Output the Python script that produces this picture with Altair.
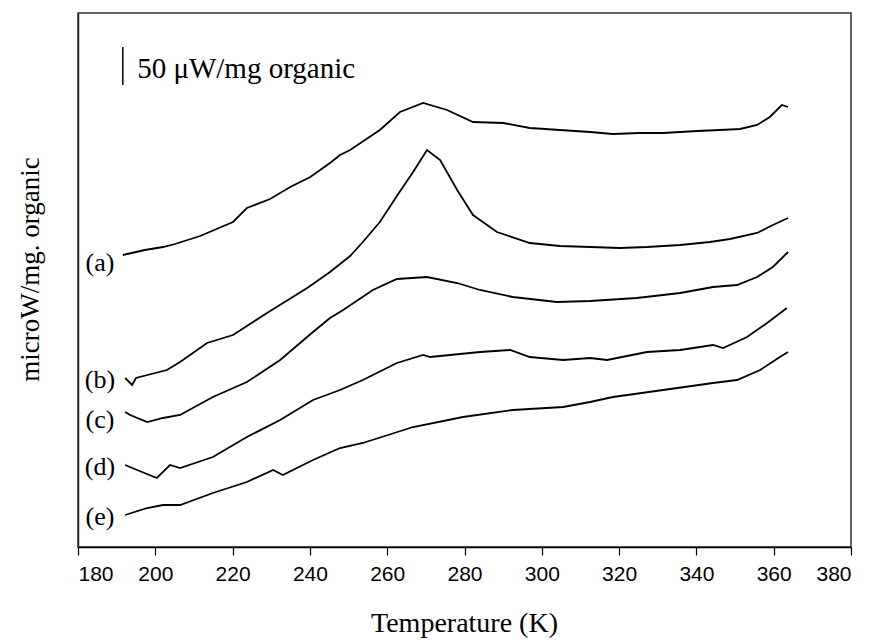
import altair as alt
import pandas as pd

# Temperature (K) and signal (arbitrary offset units)
T_a = [191.6, 197.3, 202.0, 205.1, 211.6, 220.1, 223.7, 229.7, 234.9, 240.1, 245.2, 247.8, 250.4, 258.1,
       263.3, 269.3, 275.5, 282.2, 290.0, 296.9, 304.7, 312.5, 318.4, 325.4, 331.4, 340.2, 346.1, 351.3,
       355.7, 359.0, 362.1, 363.7]
V_a = [292, 297, 300, 303, 311, 325, 339, 348, 360, 370, 384, 392, 397, 417,
       435, 444, 437, 425, 424, 419, 417, 415, 413, 414, 414, 416, 417, 418,
       422, 430, 442, 440]

T_b = [192.2, 194.0, 195.0, 203.0, 206.4, 213.4, 220.1, 228.9, 239.3, 245.2, 250.4, 253.7, 258.1, 262.5,
       266.7, 270.3, 273.7, 278.1, 282.2, 288.4, 296.9, 304.7, 312.5, 320.2, 327.2, 335.8, 343.5, 348.7,
       355.7, 359.8, 363.7]
V_b = [169, 162, 169, 177, 185, 204, 212, 234, 259, 275, 291, 305, 325, 351,
       375, 397, 387, 357, 332, 315, 304, 301, 300, 299, 300, 302, 305, 308,
       314, 322, 329]

T_c = [192.2, 193.5, 197.9, 202.0, 206.4, 214.9, 223.7, 232.3, 240.8, 245.2, 248.6, 256.3, 262.5, 270.3,
       278.1, 284.0, 292.5, 303.9, 312.5, 324.6, 335.8, 344.3, 350.5, 355.7, 359.8, 363.7]
V_c = [135, 132, 125, 129, 132, 150, 165, 187, 215, 229, 237, 257, 268, 270,
       264, 257, 250, 245, 246, 249, 254, 260, 262, 270, 280, 295]

T_d = [192.2, 195.3, 200.4, 203.8, 206.4, 214.9, 223.7, 232.3, 240.8, 247.8, 253.7, 262.5, 269.3, 271.1,
       284.0, 291.8, 296.9, 305.5, 312.5, 316.9, 327.2, 335.8, 344.3, 346.9, 353.1, 358.3, 363.4]
V_d = [82, 77, 69, 82, 79, 90, 110, 127, 147, 157, 167, 184, 192, 190,
       195, 197, 190, 187, 189, 187, 195, 197, 202, 199, 210, 224, 239]

T_e = [192.2, 197.9, 202.0, 206.4, 214.9, 223.7, 230.5, 233.0, 240.8, 247.8, 253.7, 266.7, 279.6, 292.5,
       305.5, 312.5, 318.4, 331.4, 344.3, 350.5, 356.5, 361.6, 363.7]
V_e = [32, 39, 42, 42, 54, 65, 77, 72, 87, 99, 104, 120, 130, 137,
       140, 145, 150, 157, 164, 167, 177, 190, 195]

curve_names = ["(a)", "(b)", "(c)", "(d)", "(e)"]
label_T = [185.7, 185.7, 185.7, 185.7, 185.7]
label_V = [284, 167, 127, 80, 30]

x_ticks = [180, 200, 220, 240, 260, 280, 300, 320, 340, 360, 380]

scale_text = "50 \u03bcW/mg organic"
scale_T = [191.6]
scale_V = [500]
scale_V2 = [462]
scale_text_T = [195.3]
scale_text_V = [469]

rows = []
for name, Ts, Vs in zip(curve_names, [T_a, T_b, T_c, T_d, T_e], [V_a, V_b, V_c, V_d, V_e]):
    for i, (t, v) in enumerate(zip(Ts, Vs)):
        rows.append({"curve": name, "T": t, "V": v, "order": i})
df = pd.DataFrame(rows)
df_lab = pd.DataFrame({"label": curve_names, "T": label_T, "V": label_V})
df_bar = pd.DataFrame({"T": scale_T, "V": scale_V, "V2": scale_V2})
df_txt = pd.DataFrame({"T": scale_text_T, "V": scale_text_V, "text": [scale_text]})

xscale = alt.Scale(domain=[180, 380], nice=False, zero=False)
yscale = alt.Scale(domain=[0, 534], nice=False, zero=False)

x_enc = alt.X("T:Q", scale=xscale, axis=alt.Axis(
    values=x_ticks, title="Temperature (K)", grid=False, format="d",
    labelFont="Liberation Sans", labelFontSize=21, labelColor="black", labelPadding=8,
    tickSize=8, tickColor="black", tickWidth=1.2,
    domainColor="black", domainWidth=1.5,
    titleFont="Liberation Serif", titleFontSize=28, titleFontWeight="normal", titleColor="black",
    titleX=386, titleY=84, titleBaseline="alphabetic", titleAlign="center"))
y_enc = alt.Y("V:Q", scale=yscale, axis=alt.Axis(
    title="microW/mg. organic", labels=False, ticks=False, grid=False,
    domainColor="#222", domainWidth=1.5,
    titleFont="Liberation Serif", titleFontSize=27, titleFontWeight="normal", titleColor="black",
    titleAngle=270, titleX=-40, titleY=256, titleBaseline="alphabetic", titleAlign="center"))

lines = alt.Chart(df).mark_line(color="black", strokeWidth=1.8).encode(
    x=x_enc, y=y_enc, detail="curve:N", order="order:Q")

labels = alt.Chart(df_lab).mark_text(font="Liberation Serif", fontSize=26, color="black",
                                     align="center", baseline="middle").encode(
    x=alt.X("T:Q", scale=xscale), y=alt.Y("V:Q", scale=yscale), text="label:N")

bar = alt.Chart(df_bar).mark_rule(color="black", strokeWidth=1.5).encode(
    x=alt.X("T:Q", scale=xscale), y=alt.Y("V:Q", scale=yscale), y2="V2:Q")

txt = alt.Chart(df_txt).mark_text(font="Liberation Serif", fontSize=29, color="black",
                                  align="left", baseline="alphabetic").encode(
    x=alt.X("T:Q", scale=xscale), y=alt.Y("V:Q", scale=yscale), text="text:N")

chart = alt.layer(lines, labels, bar, txt).properties(
    width=773, height=534,
    autosize=alt.AutoSizeParams(type="none"),
    padding={"left": 70, "top": 5, "right": 12, "bottom": 96},
    background="white",
).configure_view(stroke="#333", strokeWidth=1.5)

chart.save("out.html", embed_options={"renderer": "svg", "actions": False})
